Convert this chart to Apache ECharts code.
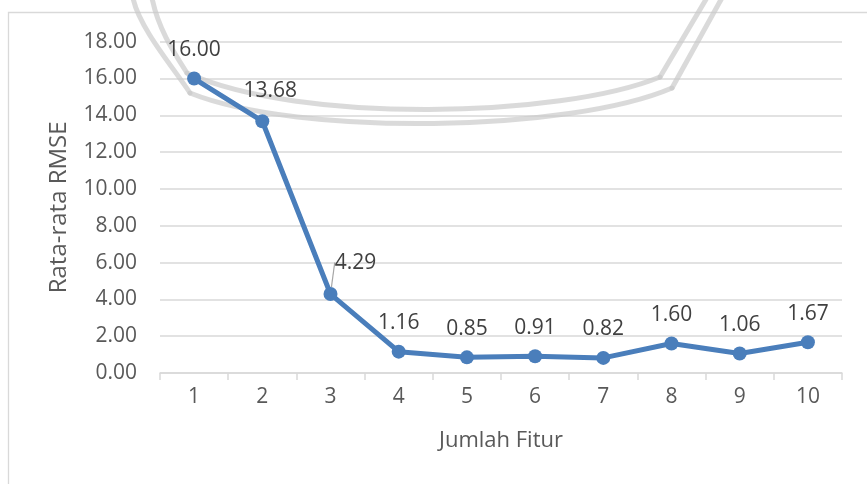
<!DOCTYPE html>
<html>
<head>
<meta charset="utf-8">
<script src="https://cdn.jsdelivr.net/npm/echarts@6/dist/echarts.min.js"></script>
<style>
  html, body { margin: 0; padding: 0; background: #fff; }
  #chart { width: 867px; height: 484px; }
</style>
</head>
<body>
<div id="chart"></div>
<script>
// Number of features vs. average RMSE
const categories = ['1', '2', '3', '4', '5', '6', '7', '8', '9', '10'];
const rmseValues = [16.00, 13.68, 4.29, 1.16, 0.85, 0.91, 0.82, 1.60, 1.06, 1.67];
const yTicks = { min: 0, max: 18, interval: 2 };

const FONT = '"Open Sans", sans-serif';
const BLUE = '#4a7ebb';
const RING = { fill: 'none', stroke: 'rgba(200,200,200,0.68)', lineWidth: 5, lineJoin: 'round', lineCap: 'round' };

// one stroke of the grey ring band: curved left side, curved bottom, straight right side
function ringStroke(p) {
  return [
    { type: 'bezierCurve', z: 1, silent: true,
      shape: { x1: p[0], y1: p[1], cpx1: p[0] + 6, cpy1: p[1] + 30, cpx2: p[2] - 14, cpy2: p[3] - 22, x2: p[2], y2: p[3] },
      style: RING },
    { type: 'bezierCurve', z: 1, silent: true,
      shape: { x1: p[2], y1: p[3], cpx1: p[4], cpy1: p[5], cpx2: p[6], cpy2: p[7], x2: p[8], y2: p[9] },
      style: RING },
    { type: 'line', z: 1, silent: true,
      shape: { x1: p[8], y1: p[9], x2: p[10], y2: p[11] },
      style: RING }
  ];
}

const chart = echarts.init(document.getElementById('chart'), null, { renderer: 'canvas' });

const seriesData = rmseValues.map((v, i) => {
  const item = { value: v };
  if (i === 2) {
    item.labelLine = { show: true, lineStyle: { color: '#a6a6a6', width: 1.2 } };
  }
  return item;
});

chart.setOption({
  animation: false,
  backgroundColor: '#ffffff',
  grid: { left: 160, right: 25, top: 41.7, bottom: 111 },
  graphic: [
    // chart frame
    {
      type: 'rect', z: -10, silent: true,
      shape: { x: 8.5, y: 12.5, width: 900, height: 520 },
      style: { fill: 'none', stroke: '#d9d9d9', lineWidth: 1.3 }
    }
  ].concat(
    ringStroke([152, -2, 187, 73, 300, 124, 560, 118, 660, 77, 708, -4]),
    ringStroke([133, -2, 190, 93, 300, 137, 570, 132, 672, 88, 723, -4])
  ),
  xAxis: {
    type: 'category',
    data: categories,
    boundaryGap: true,
    name: 'Jumlah Fitur',
    nameLocation: 'middle',
    nameGap: 57,
    nameTextStyle: { fontFamily: FONT, fontSize: 22, color: '#595959' },
    axisLine: { show: true, lineStyle: { color: '#d9d9d9', width: 1.5 } },
    axisTick: { show: true, length: 7, alignWithLabel: false, lineStyle: { color: '#d9d9d9', width: 1.5 } },
    axisLabel: { fontFamily: FONT, fontSize: 21, color: '#595959', margin: 14 },
    splitLine: { show: false }
  },
  yAxis: {
    type: 'value',
    min: yTicks.min,
    max: yTicks.max,
    interval: yTicks.interval,
    name: 'Rata-rata RMSE',
    nameLocation: 'middle',
    nameGap: 89,
    nameRotate: 90,
    nameTextStyle: { fontFamily: FONT, fontSize: 24, color: '#595959' },
    axisLine: { show: false },
    axisTick: { show: false },
    axisLabel: {
      fontFamily: FONT, fontSize: 21, color: '#595959', margin: 23,
      formatter: v => v.toFixed(2)
    },
    splitLine: { show: true, lineStyle: { color: '#d9d9d9', width: 1.5 } }
  },
  series: [{
    type: 'line',
    data: seriesData,
    z: 5,
    symbol: 'circle',
    symbolSize: 14,
    lineStyle: { color: BLUE, width: 5 },
    itemStyle: { color: BLUE },
    label: {
      show: true,
      position: 'top',
      distance: 11,
      fontFamily: FONT,
      fontSize: 21,
      color: '#404040',
      formatter: p => p.value.toFixed(2)
    },
    labelLayout: p => {
      if (p.dataIndex === 1) return { dx: 8, dy: -2 };
      if (p.dataIndex === 2) return { dx: 25, dy: -3 };
      return {};
    }
  }]
});
</script>
</body>
</html>
